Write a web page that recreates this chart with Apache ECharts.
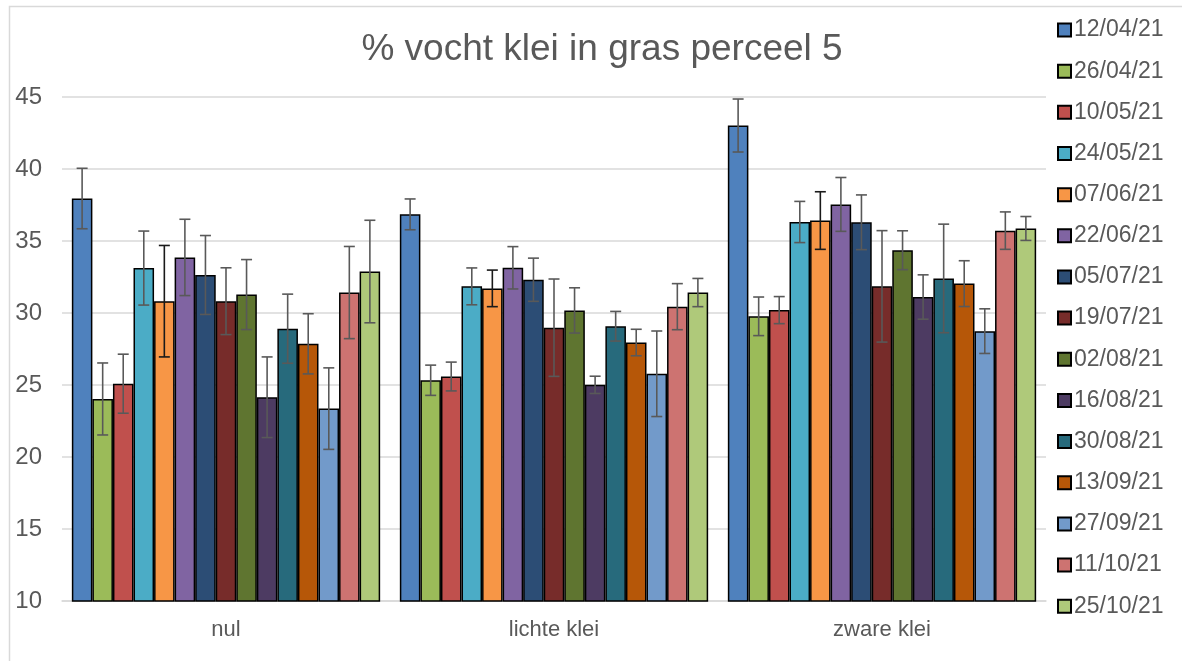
<!DOCTYPE html>
<html>
<head>
<meta charset="utf-8">
<script src="https://cdn.jsdelivr.net/npm/echarts@6/dist/echarts.min.js"></script>
<style>
html,body{margin:0;padding:0;background:#fff;}
#c{width:1182px;height:661px;}
</style>
</head>
<body>
<div id="c"></div>
<script>
const categories = ['nul', 'lichte klei', 'zware klei'];
const dates = ['12/04/21','26/04/21','10/05/21','24/05/21','07/06/21','22/06/21','05/07/21','19/07/21','02/08/21','16/08/21','30/08/21','13/09/21','27/09/21','11/10/21','25/10/21'];
const colors = ['#4F81BD','#9BBB59','#C0504D','#4BACC6','#F79646','#8064A2','#2C4D75','#772C2A','#5F7530','#4D3B62','#276A7C','#B65708','#729ACA','#CD7371','#AFC97A'];
const errColors = ['#595959','#595959','#595959','#595959','#1a1a1a','#595959','#595959','#595959','#595959','#595959','#595959','#595959','#595959','#595959','#595959'];

const meanNul    = [37.95, 24.03, 25.09, 33.12, 30.82, 33.86, 32.64, 30.82, 31.28, 24.15, 28.91, 27.86, 23.36, 31.42, 32.88];
const meanLichte = [36.85, 25.33, 25.59, 31.85, 31.71, 33.14, 32.31, 28.98, 30.18, 25.01, 29.08, 27.95, 25.78, 30.44, 31.42];
const meanZware  = [43.02, 29.77, 30.20, 36.32, 36.42, 37.54, 36.30, 31.85, 34.36, 31.11, 32.40, 32.04, 28.74, 35.72, 35.87];

const errNul    = [2.10, 2.50, 2.05, 2.57, 3.87, 2.65, 2.74, 2.32, 2.43, 2.80, 2.40, 2.09, 2.83, 3.20, 3.56];
const errLichte = [1.07, 1.05, 1.00, 1.28, 1.27, 1.47, 1.50, 3.38, 1.57, 0.60, 1.03, 0.92, 2.97, 1.60, 0.98];
const errZware  = [1.84, 1.34, 0.94, 1.43, 2.00, 1.87, 1.90, 3.87, 1.35, 1.54, 3.77, 1.59, 1.55, 1.30, 0.83];

const yTicks = { min: 10, max: 45, interval: 5 };

const CAT_GAP = 0.06;
const N = dates.length;
const series = [];
dates.forEach(function (d, i) {
  const means = [meanNul[i], meanLichte[i], meanZware[i]];
  const errs = [errNul[i], errLichte[i], errZware[i]];
  series.push({
    name: d,
    type: 'bar',
    data: means,
    barGap: '0%',
    barCategoryGap: (CAT_GAP * 100) + '%',
    itemStyle: { color: colors[i], borderColor: '#000', borderWidth: 1.5 },
    emphasis: { disabled: true },
    z: 2
  });
  series.push({
    name: 'err_' + d,
    type: 'custom',
    data: means.map(function (m, k) { return [k, m - errs[k], m + errs[k]]; }),
    encode: { x: 0, y: [1, 2] },
    z: 5,
    silent: true,
    renderItem: function (params, api) {
      const k = api.value(0);
      const lo = api.coord([k, api.value(1)]);
      const hi = api.coord([k, api.value(2)]);
      const bandW = api.size([1, 0])[0];
      const total = bandW * (1 - CAT_GAP);
      const bw = total / N;
      const x = lo[0] - total / 2 + (i + 0.5) * bw;
      const cap = 5.5;
      const st = { stroke: errColors[i], lineWidth: 1.6 };
      return {
        type: 'group',
        children: [
          { type: 'line', shape: { x1: x, y1: lo[1], x2: x, y2: hi[1] }, style: st },
          { type: 'line', shape: { x1: x - cap, y1: lo[1], x2: x + cap, y2: lo[1] }, style: st },
          { type: 'line', shape: { x1: x - cap, y1: hi[1], x2: x + cap, y2: hi[1] }, style: st }
        ]
      };
    }
  });
});

const chart = echarts.init(document.getElementById('c'), null, { renderer: 'canvas' });
chart.setOption({
  backgroundColor: '#fff',
  animation: false,
  textStyle: { fontFamily: 'Liberation Sans, Arial, sans-serif' },
  graphic: [{
    type: 'rect',
    shape: { x: 9.5, y: 6.5, width: 1200, height: 700 },
    style: { fill: 'none', stroke: '#d9d9d9', lineWidth: 1.5 },
    silent: true,
    z: -1
  }],
  title: {
    text: '% vocht klei in gras perceel 5',
    left: 597,
    top: 26,
    textAlign: 'center',
    textStyle: { fontSize: 37, fontWeight: 'normal', color: '#595959', fontFamily: 'Liberation Sans, Arial, sans-serif' }
  },
  legend: {
    data: dates,
    orient: 'vertical',
    left: 1052,
    top: 13,
    itemWidth: 13,
    itemHeight: 13,
    itemGap: 17.16,
    icon: 'rect',
    textStyle: { fontSize: 23, color: '#595959', lineHeight: 24, padding: [0, 0, 0, -2] },
    selectedMode: false
  },
  grid: { left: 62, right: 136, top: 97, bottom: 60 },
  xAxis: {
    type: 'category',
    data: categories,
    axisLine: { lineStyle: { color: '#d9d9d9', width: 1.5 } },
    axisTick: { show: false },
    axisLabel: { fontSize: 22, color: '#595959', margin: 18 }
  },
  yAxis: {
    type: 'value',
    min: yTicks.min,
    max: yTicks.max,
    interval: yTicks.interval,
    axisLine: { show: false },
    axisTick: { show: false },
    splitLine: { lineStyle: { color: '#d9d9d9', width: 1.5 } },
    axisLabel: { fontSize: 24, color: '#595959', margin: 20 }
  },
  series: series
});
</script>
</body>
</html>
